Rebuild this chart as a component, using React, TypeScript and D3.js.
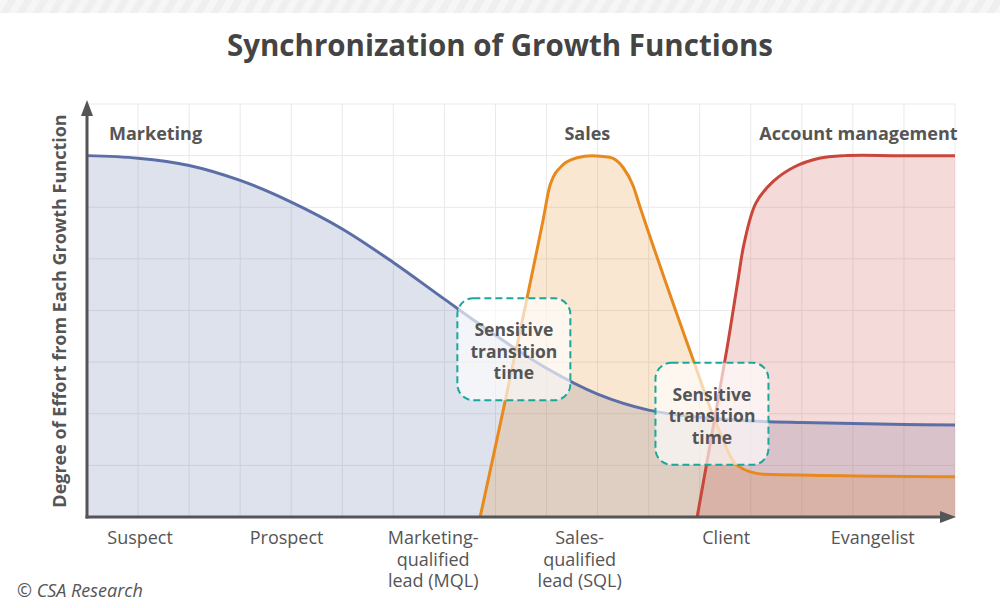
import React from 'react';
import * as d3 from 'd3';

const title = 'Synchronization of Growth Functions';
const yAxisTitle = 'Degree of Effort from Each Growth Function';

const stageLabels = [
  ['Suspect'],
  ['Prospect'],
  ['Marketing-', 'qualified', 'lead (MQL)'],
  ['Sales-', 'qualified', 'lead (SQL)'],
  ['Client'],
  ['Evangelist'],
];

// [stage position on the 0..17 grid, effort on the 0..8 grid]
const marketingPoints: [number, number][] = [
  [0, 7], [1, 6.95], [2, 6.81], [3, 6.52], [4, 6.1], [5, 5.58], [6, 4.93],
  [7, 4.22], [8, 3.52], [9, 2.88], [10, 2.38], [11, 2.07], [12, 1.93],
  [13, 1.86], [14, 1.83], [15, 1.81], [16, 1.79], [17, 1.78],
];

const salesPoints: [number, number][] = [
  [7.7, 0], [8.93, 5.74], [9.07, 6.43], [9.32, 6.82], [9.6, 6.96], [9.89, 7.0],
  [10.24, 6.97], [10.5, 6.77], [10.69, 6.43], [10.83, 6.01], [11.87, 3.05],
  [12.36, 1.72], [12.73, 1.0], [13.24, 0.83], [17, 0.78],
];

const accountPoints: [number, number][] = [
  [11.95, 0], [12.53, 3.24], [12.75, 4.59], [12.87, 5.3],
  [13.1, 6.08], [13.44, 6.5], [13.85, 6.78], [14.34, 6.95], [14.84, 7.0],
  [15.9, 7.0], [17, 7.0],
];

const seriesNames = ['Marketing', 'Sales', 'Account management'];
const seriesColors = ['#5b6fa6', '#e8891e', '#c9463a'];

const boxText = ['Sensitive', 'transition', 'time'];
// centre of each box, in grid units
const boxCentres: [number, number][] = [[8.36, 3.25], [12.24, 2.0]];

const credit = '© CSA Research';

const W = 1000;
const H = 608;
const font = '"Open Sans", "Noto Sans", sans-serif';
const textColor = '#555';

export default function App() {
  const x = d3.scaleLinear().domain([0, 17]).range([87, 955]);
  const y = d3.scaleLinear().domain([0, 8]).range([517, 104]);

  const stageX = d3
    .scalePoint<number>()
    .domain(stageLabels.map((_, i) => i))
    .range([x(1.04), x(15.39)]);

  const curves = [d3.curveCatmullRom.alpha(0.5), d3.curveMonotoneX, d3.curveCatmullRom.alpha(0.5)];

  const areaFor = (i: number) =>
    d3
      .area<[number, number]>()
      .x((d) => x(d[0]))
      .y0(y(0))
      .y1((d) => y(d[1]))
      .curve(curves[i]);
  const lineFor = (i: number) =>
    d3
      .line<[number, number]>()
      .x((d) => x(d[0]))
      .y((d) => y(d[1]))
      .curve(curves[i]);

  const series = [marketingPoints, salesPoints, accountPoints];

  const labelPos: { x: number; anchor: 'start' | 'middle' | 'end' }[] = [
    { x: x(0.43), anchor: 'start' },
    { x: x(9.8), anchor: 'middle' },
    { x: x(17.05), anchor: 'end' },
  ];

  const boxW = 113;
  const boxH = 102;

  return (
    <svg width={W} height={H} style={{ display: 'block', position: 'absolute', left: 0, top: 0 }} fontFamily={font}>
      <defs>
        <pattern id="stripes" width="14" height="14" patternUnits="userSpaceOnUse" patternTransform="rotate(30)">
          <rect width="14" height="14" fill="#efefef" />
          <rect width="7" height="14" fill="#f6f6f6" />
        </pattern>
      </defs>
      <rect width={W} height={H} fill="#fff" />
      <rect width={W} height={13} fill="url(#stripes)" />

      <text x={W / 2} y={56} textAnchor="middle" fontSize={29.5} fontWeight={700} fill="#444">
        {title}
      </text>

      {/* grid */}
      <g stroke="#e9e9e9" strokeWidth={1}>
        {d3.range(1, 18).map((i) => (
          <line key={'v' + i} x1={x(i)} x2={x(i)} y1={y(8)} y2={y(0)} />
        ))}
        {d3.range(1, 9).map((i) => (
          <line key={'h' + i} x1={x(0)} x2={x(17)} y1={y(i)} y2={y(i)} />
        ))}
      </g>

      {/* fills */}
      {series.map((pts, i) => (
        <path key={'a' + i} d={areaFor(i)(pts) || ''} fill={seriesColors[i]} fillOpacity={0.2} />
      ))}
      {series.map((pts, i) => (
        <path key={'l' + i} d={lineFor(i)(pts) || ''} fill="none" stroke={seriesColors[i]} strokeWidth={3} />
      ))}

      {/* series names */}
      {seriesNames.map((name, i) => (
        <text key={name} x={labelPos[i].x} y={140} textAnchor={labelPos[i].anchor} fontSize={18} fontWeight={700} fill={textColor}>
          {name}
        </text>
      ))}

      {/* transition boxes */}
      {boxCentres.map(([cx, cy], i) => (
        <g key={'b' + i} transform={`translate(${x(cx)},${y(cy)})`}>
          <rect
            x={-boxW / 2}
            y={-boxH / 2}
            width={boxW}
            height={boxH}
            rx={16}
            fill="#fff"
            fillOpacity={0.65}
            stroke="#19a89a"
            strokeWidth={2}
            strokeDasharray="7 4"
          />
          {boxText.map((t, j) => (
            <text key={t} x={0} y={-13 + j * 21.5} textAnchor="middle" fontSize={17.5} fontWeight={700} fill={textColor}>
              {t}
            </text>
          ))}
        </g>
      ))}

      {/* axes */}
      <g stroke="#555" strokeWidth={3} fill="none">
        <line x1={x(0)} x2={x(0)} y1={y(0) + 1.5} y2={112} />
        <line x1={x(0) - 1.5} x2={944} y1={y(0)} y2={y(0)} />
      </g>
      <path d={`M${x(0)},100 L${x(0) + 6},116 L${x(0) - 6},116 Z`} fill="#555" />
      <path d={`M956,${y(0)} L940,${y(0) - 6} L940,${y(0) + 6} Z`} fill="#555" />

      <text
        transform={`translate(66,311) rotate(-90)`}
        textAnchor="middle"
        fontSize={18}
        fontWeight={700}
        fill={textColor}
      >
        {yAxisTitle}
      </text>

      {stageLabels.map((lines, i) => (
        <text key={'s' + i} x={stageX(i)} y={544} textAnchor="middle" fontSize={18} fill={textColor}>
          {lines.map((l, j) => (
            <tspan key={l} x={stageX(i)} dy={j === 0 ? 0 : 21.5}>
              {l}
            </tspan>
          ))}
        </text>
      ))}

      <text x={17} y={597} fontSize={18} fontStyle="italic" fill={textColor}>
        {credit}
      </text>
    </svg>
  );
}
